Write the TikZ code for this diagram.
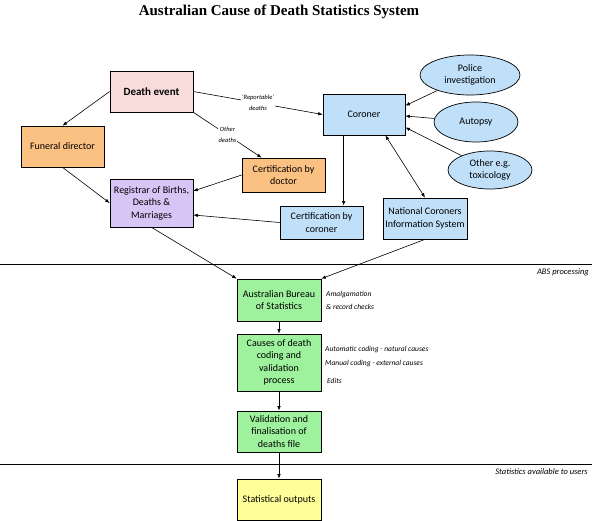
\documentclass[tikz,border=0pt]{standalone}
\usepackage{fontspec}
\setsansfont{Carlito}
\newfontfamily\titlefont{Liberation Serif}
\usetikzlibrary{arrows.meta,calc,shapes.geometric}
\definecolor{cpink}{HTML}{F8DCDC}
\definecolor{corange}{HTML}{FBC182}
\definecolor{cpurple}{HTML}{D9C4F6}
\definecolor{cblue}{HTML}{C0DFF8}
\definecolor{cgreen}{HTML}{9EF29E}
\definecolor{cyellow}{HTML}{FFFF99}
\tikzset{
  box/.style={draw=black, line width=0.7pt, rectangle, align=center, inner sep=1pt,
    font=\sffamily\fontsize{10}{12.5}\selectfont},
  ell/.style={draw=black, line width=0.7pt, ellipse, align=center, inner sep=0pt,
    fill=cblue, font=\sffamily\fontsize{10}{12.5}\selectfont},
  arr/.style={line width=0.6pt, -{Latex[length=4.5pt,width=3.5pt]}},
  darr/.style={line width=0.6pt, {Latex[length=4.5pt,width=3.5pt]}-{Latex[length=4.5pt,width=3.5pt]}},
  lbl/.style={font=\sffamily\itshape\fontsize{6.5}{11}\selectfont, fill=white, inner sep=1pt, align=center},
  note/.style={font=\sffamily\itshape\fontsize{7.5}{9}\selectfont, anchor=west, inner sep=0pt},
  sect/.style={font=\sffamily\itshape\fontsize{8.5}{10}\selectfont, anchor=east, inner sep=0pt},
}
\begin{document}
\begin{tikzpicture}[x=1pt,y=-1pt]
\useasboundingbox (0,0) rectangle (592,521);
\node[font=\titlefont\bfseries\fontsize{15}{17}\selectfont] (title) at (279,12) {Australian Cause of Death Statistics System};

\node[box, fill=cpink, minimum width=83pt, minimum height=41pt, font=\sffamily\bfseries\fontsize{11}{13}\selectfont] (death) at (151.5,91.5) {Death event};
\node[box, fill=cblue, minimum width=82pt, minimum height=41pt] (coroner) at (364,114.5) {Coroner};
\node[box, fill=corange, minimum width=83pt, minimum height=41pt] (funeral) at (62.5,146.5) {Funeral director};
\node[box, fill=corange, minimum width=83pt, minimum height=34pt] (certdoc) at (283.5,175) {Certification by\\doctor};
\node[box, fill=cpurple, minimum width=83pt, minimum height=48pt] (registrar) at (151.5,203) {Registrar of Births,\\Deaths \&\\Marriages};
\node[box, fill=cblue, minimum width=83pt, minimum height=33pt] (certcor) at (321.5,222.5) {Certification by\\coroner};
\node[box, fill=cblue, minimum width=84pt, minimum height=41pt] (ncis) at (425,218.5) {National Coroners\\Information System};

\node[ell, minimum width=100pt, minimum height=40pt] (police) at (470,75) {Police\\investigation};
\node[ell, minimum width=84pt, minimum height=40pt] (autopsy) at (476,122) {Autopsy};
\node[ell, minimum width=84pt, minimum height=38pt] (tox) at (490,170) {Other e.g.\\toxicology};

\node[box, fill=cgreen, minimum width=84pt, minimum height=42pt] (abs) at (279,300) {Australian Bureau\\of Statistics};
\node[box, fill=cgreen, minimum width=84pt, minimum height=57pt] (causes) at (279,362.5) {Causes of death\\coding and\\validation\\process};
\node[box, fill=cgreen, minimum width=84pt, minimum height=41pt] (valid) at (279,431.5) {Validation and\\finalisation of\\deaths file};
\node[box, fill=cyellow, minimum width=84pt, minimum height=41pt] (stats) at (279,499.5) {Statistical outputs};

% section lines
\coordinate (l1a) at (0,264); \coordinate (l1b) at (592,264);
\coordinate (l2a) at (0,464); \coordinate (l2b) at (592,464);
\draw[line width=0.7pt] (l1a) -- (l1b);
\draw[line width=0.7pt] (l2a) -- (l2b);
\node[sect] (absp) at (589,272) {ABS processing};
\node[sect] (avail) at (588,472) {Statistics available to users};

% notes
\node[note] (n1) at (326,295) {Amalgamation};
\node[note] (n2) at (326,307) {\& record checks};
\node[note] (n3) at (325,350) {Automatic coding - natural causes};
\node[note] (n4) at (325,364) {Manual coding - external causes};
\node[note] (n5) at (327,381) {Edits};

% connectors
\draw[arr] (death.west) -- (funeral.north);
\draw[arr] (death.east) -- node[lbl] {'Reportable'\\deaths} (coroner.west);
\draw[arr] (death.south east) -- node[lbl] {Other\\deaths} ($(certdoc.north west)+(20,0)$);
\draw[arr] (funeral.south) -- (registrar.west);
\draw[arr] (certdoc.west) -- ($(registrar.east)+(0,-12)$);
\draw[arr] (certcor.west) -- ($(registrar.east)+(0,12)$);
\draw[arr] (registrar.south) -- (abs.north west);
\draw[arr] (ncis.south) -- (abs.north east);
\draw[arr] ($(coroner.south west)+(21,0)$) -- ($(certcor.north west)+(64,0)$);
\draw[darr] ($(coroner.south east)+(-20,0)$) -- (ncis.north);
\draw[arr] (police) -- ($(coroner.north east)+(0,12)$);
\draw[arr] (autopsy) -- ($(coroner.east)+(0,1.5)$);
\draw[arr] (tox) -- ($(coroner.south east)+(0,-8)$);
\draw[arr] (abs.south) -- (causes.north);
\draw[arr] (causes.south) -- (valid.north);
\draw[arr] (valid.south) -- (stats.north);
\end{tikzpicture}
\end{document}
